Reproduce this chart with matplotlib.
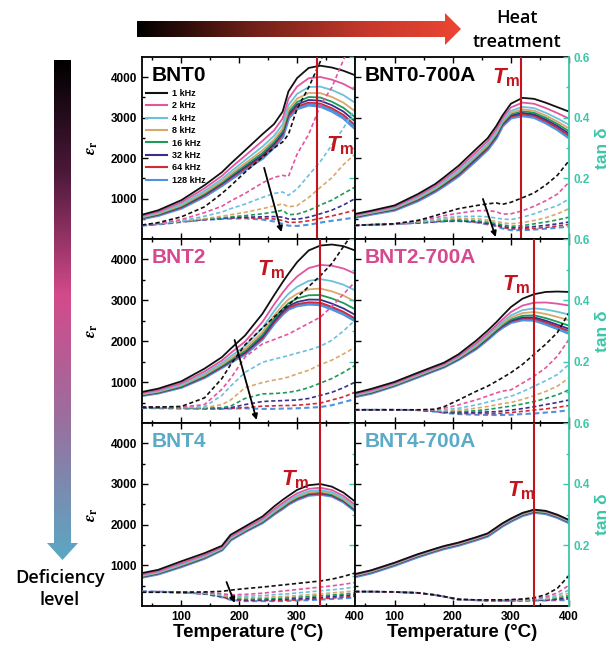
import numpy as np
import matplotlib
matplotlib.use('Agg')
import matplotlib.pyplot as plt
from matplotlib.colors import LinearSegmentedColormap
from matplotlib.patches import Polygon
from matplotlib.lines import Line2D
from matplotlib.ticker import FixedLocator, FormatStrFormatter

# ---------------- data ----------------
T = [32, 60, 100, 140, 170, 185, 210, 240, 260, 275, 285, 300, 320, 340, 360, 380, 400]
FREQS = ['1 kHz', '2 kHz', '4 kHz', '8 kHz', '16 kHz', '32 kHz', '64 kHz', '128 kHz']

EPS_BNT0 = [
    [600, 710, 960, 1330, 1650, 1860, 2190, 2590, 2840, 3150, 3650, 3980, 4230, 4285, 4240, 4160, 4050],
    [575, 676, 907, 1254, 1560, 1754, 2058, 2425, 2683, 2979, 3468, 3770, 3975, 4006, 3940, 3835, 3683],
    [553, 648, 861, 1190, 1484, 1662, 1946, 2283, 2549, 2833, 3312, 3590, 3757, 3768, 3684, 3557, 3369],
    [539, 628, 831, 1146, 1432, 1602, 1870, 2189, 2459, 2735, 3208, 3470, 3611, 3608, 3512, 3371, 3159],
    [529, 615, 810, 1117, 1397, 1560, 1819, 2124, 2398, 2668, 3137, 3388, 3511, 3499, 3395, 3244, 3015],
    [522, 606, 795, 1095, 1372, 1529, 1781, 2077, 2353, 2619, 3085, 3328, 3438, 3419, 3309, 3151, 2910],
    [515, 597, 781, 1076, 1349, 1503, 1748, 2035, 2314, 2577, 3039, 3275, 3375, 3350, 3234, 3070, 2819],
    [510, 590, 770, 1060, 1330, 1480, 1720, 2000, 2280, 2540, 3000, 3230, 3320, 3290, 3170, 3000, 2740],
]
TAN_BNT0 = [
    [.046, .054, .073, .106, .150, .175, .220, .270, .300, .320, .345, .430, .500, .585, .680, .780, .880],
    [.046, .051, .064, .087, .108, .125, .150, .185, .203, .210, .206, .280, .345, .440, .500, .590, .680],
    [.046, .050, .060, .075, .089, .100, .115, .137, .150, .155, .144, .165, .210, .255, .310, .365, .430],
    [.046, .050, .059, .067, .075, .080, .088, .100, .109, .116, .106, .110, .137, .170, .202, .245, .280],
    [.046, .050, .058, .066, .070, .073, .077, .083, .089, .095, .080, .082, .094, .112, .128, .150, .171],
    [.045, .049, .058, .065, .068, .070, .072, .073, .074, .072, .066, .065, .072, .083, .095, .112, .133],
    [.045, .049, .057, .064, .067, .069, .070, .068, .066, .061, .055, .055, .060, .068, .076, .085, .095],
    [.044, .048, .056, .063, .066, .067, .068, .064, .058, .050, .044, .043, .047, .054, .060, .065, .071],
]
EPS_BNT2 = [
    [760, 840, 1020, 1330, 1610, 1815, 2140, 2670, 3120, 3445, 3650, 3935, 4220, 4340, 4365, 4325, 4220],
    [734, 807, 974, 1261, 1529, 1708, 1992, 2469, 2896, 3189, 3366, 3585, 3789, 3865, 3847, 3779, 3656],
    [714, 783, 940, 1210, 1470, 1630, 1884, 2322, 2732, 3003, 3160, 3331, 3476, 3519, 3470, 3382, 3245],
    [702, 767, 918, 1177, 1431, 1578, 1812, 2225, 2624, 2879, 3022, 3161, 3267, 3289, 3219, 3117, 2972],
    [693, 756, 902, 1154, 1404, 1542, 1762, 2158, 2549, 2794, 2928, 3045, 3124, 3130, 3046, 2935, 2784],
    [686, 748, 891, 1137, 1385, 1516, 1726, 2109, 2494, 2732, 2859, 2960, 3019, 3015, 2921, 2802, 2647],
    [682, 743, 884, 1126, 1372, 1500, 1704, 2078, 2460, 2693, 2816, 2907, 2954, 2943, 2842, 2720, 2561],
    [680, 740, 880, 1120, 1365, 1490, 1690, 2060, 2440, 2670, 2790, 2875, 2915, 2900, 2795, 2670, 2510],
]
TAN_BNT2 = [
    [.052, .052, .054, .082, .145, .190, .255, .310, .345, .370, .385, .410, .445, .480, .520, .575, .630],
    [.052, .052, .052, .060, .110, .145, .215, .258, .272, .283, .290, .305, .325, .345, .380, .420, .460],
    [.052, .052, .051, .053, .090, .120, .165, .198, .208, .215, .220, .228, .238, .250, .270, .300, .335],
    [.052, .051, .050, .050, .060, .075, .115, .132, .140, .145, .150, .160, .172, .190, .205, .225, .247],
    [.051, .050, .050, .049, .050, .055, .080, .095, .096, .098, .100, .105, .115, .130, .145, .165, .188],
    [.050, .050, .049, .048, .048, .050, .060, .070, .072, .073, .074, .075, .080, .090, .100, .115, .133],
    [.050, .049, .048, .047, .047, .048, .050, .055, .056, .057, .057, .058, .061, .065, .075, .085, .100],
    [.049, .048, .047, .046, .046, .047, .048, .046, .046, .047, .047, .048, .050, .052, .058, .068, .078],
]
EPS_BNT4 = [
    [810, 890, 1100, 1300, 1480, 1750, 1955, 2200, 2445, 2610, 2710, 2855, 2970, 3000, 2935, 2790, 2570],
    [775, 855, 1054, 1256, 1445, 1706, 1911, 2146, 2378, 2534, 2636, 2770, 2881, 2909, 2852, 2709, 2489],
    [753, 833, 1025, 1228, 1423, 1678, 1883, 2113, 2337, 2487, 2590, 2717, 2826, 2853, 2800, 2658, 2438],
    [741, 821, 1009, 1212, 1411, 1662, 1867, 2094, 2314, 2460, 2564, 2687, 2795, 2821, 2771, 2629, 2409],
    [730, 810, 995, 1199, 1400, 1649, 1854, 2078, 2294, 2438, 2542, 2662, 2768, 2794, 2746, 2605, 2385],
    [725, 805, 988, 1192, 1395, 1642, 1847, 2069, 2283, 2426, 2530, 2648, 2754, 2780, 2732, 2592, 2372],
    [718, 798, 979, 1184, 1388, 1634, 1839, 2059, 2270, 2411, 2516, 2632, 2737, 2762, 2717, 2577, 2357],
    [715, 795, 975, 1180, 1385, 1630, 1835, 2055, 2265, 2405, 2510, 2625, 2730, 2755, 2710, 2570, 2350],
]
TAN_BNT4 = [
    [.045, .045, .045, .046, .048, .052, .057, .062, .066, .069, .071, .074, .078, .082, .088, .097, .108],
    [.047, .047, .046, .044, .040, .037, .038, .042, .046, .049, .051, .054, .058, .062, .066, .071, .077],
    [.047, .047, .046, .043, .037, .033, .032, .034, .037, .039, .040, .043, .046, .050, .053, .057, .062],
    [.046, .046, .045, .042, .035, .029, .027, .028, .030, .031, .032, .034, .037, .040, .043, .046, .050],
    [.046, .046, .045, .041, .033, .026, .023, .024, .025, .026, .027, .029, .031, .034, .036, .039, .043],
    [.046, .046, .044, .040, .031, .024, .020, .020, .021, .022, .023, .024, .026, .028, .031, .034, .037],
    [.047, .046, .044, .040, .030, .022, .018, .018, .018, .019, .019, .020, .022, .024, .026, .029, .032],
    [.048, .047, .045, .040, .029, .020, .016, .016, .016, .016, .017, .018, .019, .021, .023, .025, .028],
]
EPS_A0 = [
    [620, 700, 830, 1110, 1360, 1525, 1810, 2220, 2490, 2795, 3040, 3345, 3490, 3465, 3370, 3260, 3150],
    [598, 678, 800, 1067, 1311, 1470, 1744, 2147, 2417, 2718, 2974, 3252, 3373, 3344, 3238, 3113, 2977],
    [579, 659, 774, 1028, 1268, 1420, 1685, 2082, 2352, 2650, 2915, 3169, 3268, 3236, 3120, 2982, 2824],
    [568, 648, 759, 1006, 1243, 1392, 1651, 2045, 2315, 2610, 2881, 3121, 3207, 3173, 3052, 2906, 2734],
    [559, 639, 746, 988, 1223, 1369, 1624, 2015, 2285, 2578, 2854, 3083, 3159, 3123, 2998, 2846, 2664],
    [552, 632, 737, 974, 1207, 1351, 1602, 1990, 2260, 2553, 2832, 3052, 3120, 3083, 2954, 2797, 2606],
    [546, 626, 728, 961, 1193, 1334, 1582, 1969, 2239, 2530, 2812, 3024, 3085, 3047, 2914, 2753, 2555],
    [540, 620, 720, 950, 1180, 1320, 1565, 1950, 2220, 2510, 2795, 3000, 3055, 3015, 2880, 2715, 2510],
]
TAN_A0 = [
    [.045, .047, .050, .061, .077, .086, .100, .110, .116, .119, .114, .121, .136, .152, .178, .210, .258],
    [.045, .047, .050, .061, .070, .077, .085, .093, .094, .090, .082, .083, .093, .108, .126, .148, .187],
    [.045, .047, .050, .058, .064, .070, .074, .075, .073, .069, .066, .064, .072, .083, .097, .110, .132],
    [.045, .047, .050, .056, .061, .066, .068, .067, .062, .058, .054, .050, .054, .061, .070, .083, .100],
    [.045, .047, .050, .055, .059, .062, .063, .061, .055, .051, .047, .042, .044, .050, .056, .063, .072],
    [.045, .047, .050, .054, .058, .060, .061, .058, .052, .047, .042, .037, .038, .041, .045, .050, .056],
    [.045, .047, .049, .053, .057, .059, .060, .056, .050, .044, .038, .033, .033, .035, .038, .043, .048],
    [.045, .047, .049, .053, .056, .058, .059, .055, .048, .042, .035, .029, .029, .031, .034, .037, .041],
]
EPS_A2 = [
    [735, 835, 1005, 1230, 1395, 1475, 1680, 2010, 2260, 2465, 2615, 2835, 3040, 3150, 3205, 3215, 3205],
    [707, 802, 975, 1197, 1362, 1442, 1640, 1947, 2191, 2389, 2524, 2713, 2872, 2942, 2948, 2918, 2873],
    [688, 780, 956, 1175, 1340, 1420, 1614, 1906, 2145, 2339, 2464, 2632, 2760, 2804, 2776, 2720, 2652],
    [676, 766, 943, 1161, 1326, 1406, 1597, 1879, 2115, 2306, 2425, 2580, 2688, 2715, 2667, 2594, 2512],
    [665, 753, 931, 1148, 1313, 1393, 1582, 1854, 2088, 2276, 2390, 2532, 2622, 2634, 2565, 2477, 2381],
    [659, 745, 924, 1140, 1305, 1385, 1572, 1839, 2071, 2258, 2368, 2502, 2581, 2583, 2503, 2405, 2301],
    [654, 740, 920, 1135, 1300, 1380, 1566, 1830, 2061, 2247, 2354, 2484, 2556, 2552, 2464, 2360, 2250],
    [650, 735, 915, 1130, 1295, 1375, 1560, 1820, 2050, 2235, 2340, 2465, 2530, 2520, 2425, 2315, 2200],
]
TAN_A2 = [
    [.043, .043, .043, .043, .045, .053, .075, .103, .120, .136, .147, .164, .191, .224, .257, .295, .360],
    [.043, .043, .043, .043, .043, .048, .059, .075, .088, .098, .104, .108, .130, .153, .180, .218, .273],
    [.043, .043, .043, .043, .042, .043, .048, .059, .068, .075, .080, .087, .102, .120, .138, .158, .191],
    [.043, .043, .043, .043, .041, .040, .042, .048, .054, .059, .063, .067, .077, .089, .103, .120, .147],
    [.043, .043, .043, .042, .040, .038, .037, .040, .044, .048, .051, .055, .062, .070, .080, .092, .108],
    [.043, .043, .043, .042, .039, .036, .034, .035, .036, .037, .039, .042, .047, .053, .060, .067, .075],
    [.043, .043, .043, .042, .038, .034, .031, .031, .031, .031, .032, .034, .038, .042, .046, .051, .057],
    [.043, .043, .043, .042, .037, .033, .029, .027, .026, .026, .026, .027, .029, .031, .034, .037, .042],
]
EPS_A4 = [
    [785, 880, 1065, 1275, 1410, 1475, 1560, 1690, 1785, 1930, 2030, 2150, 2290, 2370, 2340, 2245, 2115],
    [775, 870, 1055, 1265, 1400, 1465, 1550, 1680, 1775, 1920, 2020, 2140, 2280, 2360, 2330, 2235, 2105],
    [765, 860, 1045, 1255, 1390, 1455, 1540, 1670, 1765, 1910, 2010, 2130, 2270, 2350, 2320, 2225, 2095],
    [755, 850, 1035, 1245, 1380, 1445, 1530, 1660, 1755, 1900, 2000, 2120, 2260, 2340, 2310, 2215, 2085],
    [747, 842, 1027, 1237, 1372, 1437, 1522, 1652, 1747, 1892, 1992, 2112, 2252, 2332, 2302, 2207, 2077],
    [740, 835, 1020, 1230, 1365, 1430, 1515, 1645, 1740, 1885, 1985, 2105, 2245, 2325, 2295, 2200, 2070],
    [733, 828, 1013, 1223, 1358, 1423, 1508, 1638, 1733, 1878, 1978, 2098, 2238, 2318, 2288, 2193, 2063],
    [725, 820, 1005, 1215, 1350, 1415, 1500, 1630, 1725, 1870, 1970, 2090, 2230, 2310, 2280, 2185, 2055],
]
TAN_A4 = [
    [.047, .047, .046, .043, .036, .031, .022, .020, .020, .020, .020, .021, .023, .027, .037, .058, .100],
    [.047, .047, .046, .043, .036, .031, .022, .020, .019, .019, .019, .020, .021, .024, .030, .043, .068],
    [.047, .047, .046, .043, .036, .031, .021, .019, .019, .019, .019, .019, .020, .022, .026, .035, .052],
    [.047, .047, .046, .043, .036, .031, .021, .019, .019, .019, .019, .019, .019, .021, .023, .030, .042],
    [.047, .047, .046, .043, .036, .031, .021, .019, .018, .018, .018, .018, .019, .020, .022, .026, .034],
    [.047, .047, .046, .043, .036, .031, .021, .019, .018, .018, .018, .018, .018, .019, .020, .023, .028],
    [.047, .047, .046, .043, .036, .031, .021, .019, .018, .018, .018, .018, .018, .018, .019, .021, .023],
    [.047, .047, .046, .043, .036, .031, .021, .019, .018, .018, .018, .018, .018, .018, .018, .019, .019],
]
TM = {'BNT0': 333.5, 'BNT2': 340, 'BNT4': 340, 'BNT0-700A': 317, 'BNT2-700A': 339, 'BNT4-700A': 339}

# ---------------- style ----------------
plt.rcParams['font.family'] = ['Liberation Sans', 'DejaVu Sans']
plt.rcParams['font.weight'] = 'bold'
plt.rcParams['mathtext.fontset'] = 'custom'
plt.rcParams['mathtext.it'] = 'Liberation Sans:italic:bold'
plt.rcParams['mathtext.bf'] = 'Liberation Sans:bold'
plt.rcParams['mathtext.rm'] = 'Liberation Sans:bold'

COLORS = ['#111111', '#e2559f', '#6cc0dc', '#d9a86c', '#1f9a5a', '#3a2f8c', '#d52a36', '#4f93e0']
TEAL = '#3cc6aa'
TMRED = '#c3151f'

W, H = 615, 650
fig = plt.figure(figsize=(W / 100, H / 100), dpi=100)

cols_x = [(142, 355), (355, 569)]
rows_y = [(57, 239), (239, 423), (423, 606)]

panels = [
    # name, col, row, title color, eps, tan, Tm label (T, eps), arrow (T0, e0, T1, e1)
    ('BNT0', 0, 0, '#000000', EPS_BNT0, TAN_BNT0, (350, 2160), (243, 1760, 273, 170)),
    ('BNT2', 0, 1, '#d6488f', EPS_BNT2, TAN_BNT2, (230, 3620), (192, 2030, 230, 75)),
    ('BNT4', 0, 2, '#5aaac8', EPS_BNT4, TAN_BNT4, (272, 2975), (178, 590, 192, 75)),
    ('BNT0-700A', 1, 0, '#000000', EPS_A0, TAN_A0, (267, 3850), (252, 990, 274, 50)),
    ('BNT2-700A', 1, 1, '#d6488f', EPS_A2, TAN_A2, (284, 3250), None),
    ('BNT4-700A', 1, 2, '#5aaac8', EPS_A4, TAN_A4, (293, 2690), None),
]

for name, ci, ri, tcol, eps, tan, tmpos, arrow in panels:
    x0, x1 = cols_x[ci]
    y0, y1 = rows_y[ri]
    ax = fig.add_axes([x0 / W, 1 - y1 / H, (x1 - x0) / W, (y1 - y0) / H])
    ax2 = ax.twinx()
    ax.set_xlim(32, 400)
    ax.set_ylim(0, 4500)
    ax2.set_ylim(0, 0.6)

    for k in reversed(range(8)):
        ax.plot(T, eps[k], color=COLORS[k], lw=2.6 if k == 7 else 1.3, solid_capstyle='butt')
    for k in reversed(range(8)):
        ax2.plot(T, tan[k], color=COLORS[k], lw=1.5 if k == 7 else 1.2, ls=(0, (2.5, 1.6)))

    # ticks
    ax.xaxis.set_major_locator(FixedLocator([100, 200, 300, 400]))
    ax.xaxis.set_minor_locator(FixedLocator([50, 150, 250, 350]))
    ax.yaxis.set_major_locator(FixedLocator([1000, 2000, 3000, 4000]))
    ax.yaxis.set_minor_locator(FixedLocator([500, 1500, 2500, 3500]))
    ax2.yaxis.set_major_locator(FixedLocator([0.2, 0.4, 0.6]))
    ax2.yaxis.set_minor_locator(FixedLocator([0.1, 0.3, 0.5]))
    ax2.yaxis.set_major_formatter(FormatStrFormatter('%.1f'))
    ax.tick_params(which='both', direction='in', top=True, right=False, labelsize=8.5, width=1.0)
    ax.tick_params(which='major', length=4)
    ax.tick_params(which='minor', length=2.5)
    ax2.tick_params(axis='y', which='both', direction='in', colors=TEAL, labelsize=8.5, width=1.0)
    ax2.tick_params(axis='y', which='major', length=4, pad=3)
    ax2.tick_params(axis='y', which='minor', length=2.5)
    for lab in ax2.get_yticklabels():
        lab.set_fontweight('bold')

    if ri != 2:
        ax.tick_params(labelbottom=False)
    else:
        ax.set_xlabel('Temperature (°C)', fontsize=13.5, fontweight='bold', labelpad=1)
    if ci == 1:
        ax.tick_params(labelleft=False)
        ax2.set_ylabel('tan δ', color=TEAL, fontsize=12.5, fontweight='bold', labelpad=4)
    else:
        ax2.tick_params(labelright=False)
        ax.set_ylabel(r'$\varepsilon_{\mathrm{r}}$', fontsize=12, fontweight='normal',
                      math_fontfamily='stix', labelpad=8)

    for s in ['left', 'top', 'bottom']:
        ax.spines[s].set_linewidth(1.3)
        ax2.spines[s].set_visible(False)
    ax.spines['right'].set_visible(False)
    ax2.spines['right'].set_color(TEAL)
    ax2.spines['right'].set_linewidth(1.3)

    ax2.axvline(TM[name], color=TMRED, lw=1.5, zorder=6)
    ax2.text(tmpos[0], tmpos[1] / 7500, r'$\mathit{T}_{\mathbf{m}}$', color=TMRED,
             fontsize=16, ha='left', va='baseline', zorder=7)
    ax2.text(0.045, 0.9, name, transform=ax.transAxes, fontsize=15, fontweight='bold',
             color=tcol, va='center', ha='left', zorder=7)
    if arrow is not None:
        ax2.annotate('', xy=(arrow[2], arrow[3] / 7500), xytext=(arrow[0], arrow[1] / 7500),
                     arrowprops=dict(arrowstyle='-|>', color='k', lw=1.3, mutation_scale=8,
                                     shrinkA=0, shrinkB=0), zorder=8)
    if name == 'BNT0':
        handles = [Line2D([], [], color=c, lw=1.5) for c in COLORS]
        ax2.legend(handles, FREQS, loc='upper left', bbox_to_anchor=(0.0, 0.845), frameon=False,
                   prop={'size': 6.5, 'weight': 'bold'}, handlelength=2.4, handletextpad=0.5,
                   labelspacing=0.38, borderaxespad=0.2, borderpad=0.2)

# ---------------- gradient arrows & annotations ----------------
bg = fig.add_axes([0, 0, 1, 1], zorder=10)
bg.patch.set_alpha(0)
bg.axis('off')

top_cmap = LinearSegmentedColormap.from_list(
    'top', [(0, '#000000'), (0.35, '#6e1f17'), (0.7, '#c4382b'), (1.0, '#ec4632')])
left_cmap = LinearSegmentedColormap.from_list(
    'left', [(0, '#000000'), (0.22, '#4a1838'), (0.47, '#d34a8b'), (0.72, '#9a6f9e'), (1.0, '#5aa8c3')])

top_verts = [(137, 21), (445, 21), (445, 13), (461, 29), (445, 45), (445, 37), (137, 37)]
poly_t = Polygon(top_verts, closed=True, transform=bg.transData, facecolor='none', edgecolor='none')
bg.add_patch(poly_t)
im_t = bg.imshow(np.linspace(0, 1, 256).reshape(1, -1), cmap=top_cmap, extent=(137, 461, 45, 13),
                 aspect='auto', interpolation='bilinear')
im_t.set_clip_path(poly_t)

left_verts = [(54, 60), (71, 60), (71, 543), (78, 543), (62.5, 560), (47, 543), (54, 543)]
poly_l = Polygon(left_verts, closed=True, transform=bg.transData, facecolor='none', edgecolor='none')
bg.add_patch(poly_l)
im_l = bg.imshow(np.linspace(0, 1, 256).reshape(-1, 1), cmap=left_cmap, extent=(47, 78, 560, 60),
                 aspect='auto', interpolation='bilinear', origin='upper')
im_l.set_clip_path(poly_l)

bg.set_xlim(0, W)
bg.set_ylim(H, 0)

bg.text(517, 18, 'Heat', ha='center', va='center', fontsize=13, family='Open Sans', fontweight='semibold')
bg.text(517, 42, 'treatment', ha='center', va='center', fontsize=13, family='Open Sans', fontweight='semibold')
bg.text(60, 578, 'Deficiency', ha='center', va='center', fontsize=13, family='Open Sans', fontweight='semibold')
bg.text(60, 600, 'level', ha='center', va='center', fontsize=13, family='Open Sans', fontweight='semibold')

fig.savefig('out.png', dpi=100)
